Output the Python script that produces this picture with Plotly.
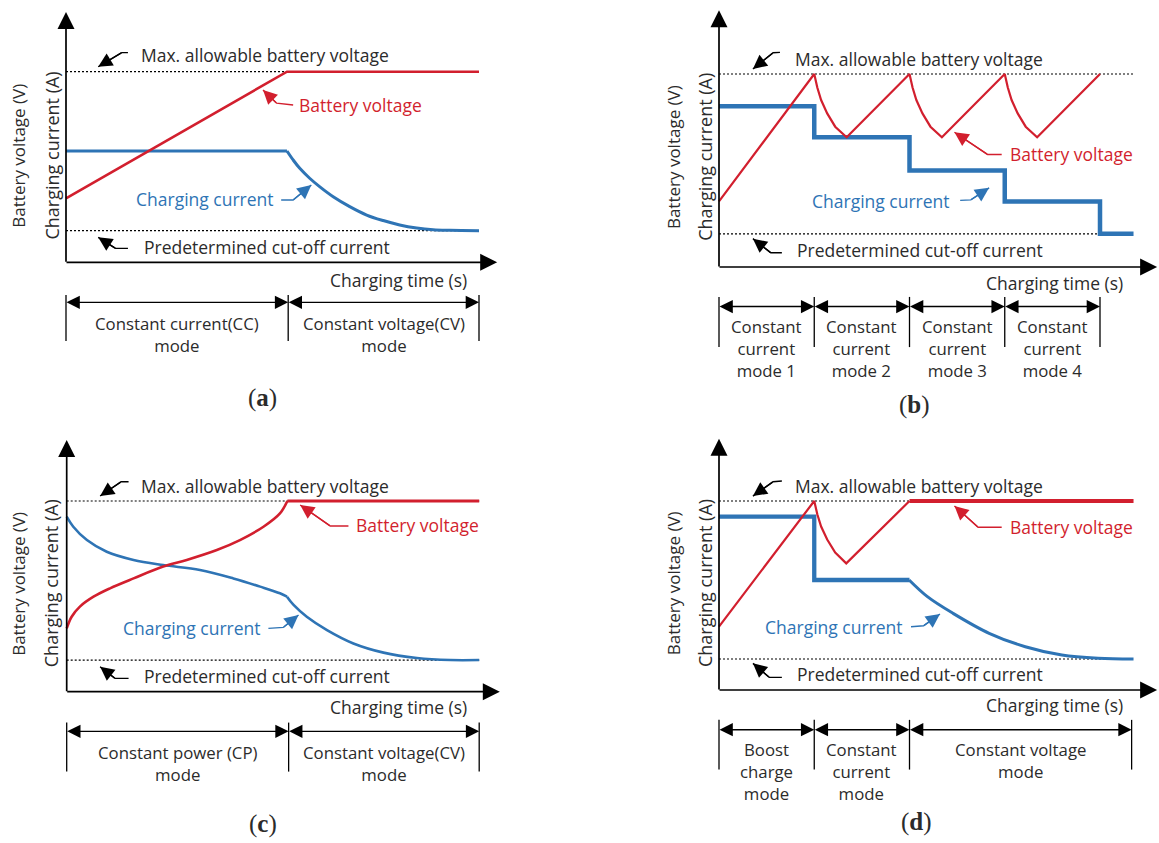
import plotly.graph_objects as go

W, H = 1159, 843
RED = '#d21f2e'
BLUE = '#2e74b5'
INK = '#2b2b2b'
FONT = 'Open Sans'
FS = 17.5

# ---------------- data (time: % of charge period, value: % of max voltage) -------------
# panel (a) CC-CV
a_volt_t = [0, 53.5, 100]
a_volt_v = [33.6, 100, 100]
a_cc_t = [0, 53.5]
a_cc_v = [58.4, 58.4]
a_cv_t = [53.5, 55.0, 56.6, 59.0, 61.4, 64.7, 68.7, 72.8, 76.8, 80.8, 84.9, 88.9, 93.0, 100]
a_cv_v = [58.4, 53.7, 49.3, 44.1, 39.7, 34.4, 29.2, 24.8, 21.9, 19.6, 18.0, 17.1, 16.8, 16.6]
a_mode_t = [0, 53.8, 100]
a_modes = [["Constant current(CC)", "mode"], ["Constant voltage(CV)", "mode"]]

# panel (b) multi-stage CC
b_volt_t = [0, 25, 25.8, 26.8, 28.4, 30.5, 33.5, 50, 50.8, 51.8, 53.4, 55.5, 58.5,
            75, 75.8, 76.8, 78.4, 80.5, 83.5, 100]
b_volt_v = [34.0, 100, 93.0, 86.5, 79.6, 72.7, 67.2, 100, 93.0, 86.5, 79.6, 72.7, 67.2,
            100, 93.0, 86.5, 79.6, 72.7, 67.2, 100]
b_curr_t = [0, 25, 50, 75, 100, 108.8]
b_curr_v = [83.3, 67.2, 50.0, 34.0, 17.2, 17.2]
b_mode_t = [0, 25, 50, 75, 100]
b_modes = [["Constant", "current", "mode 1"], ["Constant", "current", "mode 2"],
           ["Constant", "current", "mode 3"], ["Constant", "current", "mode 4"]]

# panel (c) CP-CV
c_cp_volt_t = [0, 1.2, 3.2, 6.5, 10.5, 16.2, 23.4, 29.1, 36.4, 42.0, 47.7, 51.7, 53.5]
c_cp_volt_v = [33.2, 39.3, 44.6, 49.8, 54.2, 59.4, 65.6, 69.1, 74.3, 79.5, 86.5, 93.5, 100]
c_cv_volt_t = [53.5, 100]
c_cv_volt_v = [100, 100]
c_cp_curr_t = [0, 1.6, 4.9, 9.7, 16.2, 23.4, 32.3, 40.4, 46.9, 51.7, 53.4]
c_cp_curr_v = [91.8, 86.5, 79.5, 73.4, 69.1, 66.4, 63.8, 59.4, 55.1, 51.6, 49.8]
c_cv_curr_t = [53.4, 55.0, 58.2, 63.1, 69.5, 76.8, 84.9, 93.0, 100]
c_cv_curr_v = [49.8, 45.5, 39.3, 32.3, 25.3, 20.5, 17.7, 16.6, 16.6]
c_mode_t = [0, 53.8, 100]
c_modes = [["Constant power (CP)", "mode"], ["Constant voltage(CV)", "mode"]]

# panel (d) boost-CC-CV
d_rise_volt_t = [0, 25, 25.8, 26.8, 28.4, 30.5, 33.4, 50]
d_rise_volt_v = [33.5, 100, 93.0, 86.5, 79.6, 72.7, 67.0, 100]
d_cv_volt_t = [50, 108.8]
d_cv_volt_v = [100, 100]
d_step_curr_t = [0, 25, 50]
d_step_curr_v = [91.7, 58.2, 58.2]
d_cv_curr_t = [49.9, 54.7, 61.4, 70.9, 80.4, 90.0, 99.5, 108.8]
d_cv_curr_v = [58.2, 49.4, 40.6, 30.0, 22.9, 18.5, 16.8, 16.4]
d_mode_t = [0, 25, 50, 108.3]
d_modes = [["Boost", "charge", "mode"], ["Constant", "current", "mode"], ["Constant voltage", "mode"]]

MAX_V = 100
CUTOFF = {1: 16.6, 2: 17.2, 3: 16.6, 4: 16.4}
LINE_END = {1: 100, 2: 108.8, 3: 100, 4: 108.8}

fig = go.Figure()
annotations = []


def names(i):
    return ('x', 'y') if i == 1 else (f'x{i}', f'y{i}')


def setup_axes(i, box, origin, scale):
    bx0, by0, bx1, by1 = box
    ox, oy = origin
    sx, sy = scale
    xn, yn = names(i)
    key = '' if i == 1 else str(i)
    fig.update_layout(**{
        f'xaxis{key}': dict(domain=[bx0 / W, bx1 / W], range=[(bx0 - ox) / sx, (bx1 - ox) / sx],
                            visible=False, fixedrange=True, anchor=yn),
        f'yaxis{key}': dict(domain=[1 - by1 / H, 1 - by0 / H], range=[(oy - by1) / sy, (oy - by0) / sy],
                            visible=False, fixedrange=True, anchor=xn),
    })


def line(i, t, v, color, width, dash='solid', shape='linear'):
    xn, yn = names(i)
    fig.add_trace(go.Scatter(x=t, y=v, xaxis=xn, yaxis=yn, mode='lines',
                             line=dict(color=color, width=width, dash=dash, shape=shape),
                             hoverinfo='skip', showlegend=False))


def text(i, t, v, s, color=INK, size=FS, xanchor='center', angle=0, family=FONT, yanchor='middle'):
    xn, yn = names(i)
    annotations.append(dict(x=t, y=v, xref=xn, yref=yn, text=s, showarrow=False,
                            xanchor=xanchor, yanchor=yanchor, textangle=angle, borderpad=0,
                            font=dict(family=family, size=size, color=color)))


def arrow(i, t0, v0, t1, v1, color, width=1.3, head=2, size=1.4, side='end'):
    xn, yn = names(i)
    annotations.append(dict(x=t1, y=v1, ax=t0, ay=v0, xref=xn, yref=yn, axref=xn, ayref=yn,
                            text='', showarrow=True, arrowhead=head, startarrowhead=head,
                            arrowsize=size, startarrowsize=size, arrowwidth=width,
                            arrowcolor=color, arrowside=side, standoff=0, startstandoff=0,
                            borderpad=0, font=dict(size=1)))


def pointer(i, start, bend, tip, color):
    line(i, [start[0], bend[0], tip[0]], [start[1], bend[1], tip[1]], color, 1.4)
    arrow(i, bend[0], bend[1], tip[0], tip[1], color, width=1.4, size=2.0)


def frame(i, xtip, ytip):
    arrow(i, 0, 0, xtip, 0, 'black', width=1.7, size=2.0)
    arrow(i, 0, 0, 0, ytip, 'black', width=1.7, size=2.0)
    end = LINE_END[i]
    line(i, [0, end], [MAX_V, MAX_V], 'black', 1.2, dash='2px,2px')
    line(i, [0, end], [CUTOFF[i], CUTOFF[i]], 'black', 1.2, dash='2px,2px')


def labels(i, pos):
    text(i, pos['max'][0], pos['max'][1], 'Max. allowable battery voltage', xanchor='left')
    text(i, pos['volt'][0], pos['volt'][1], 'Battery voltage', color=RED, xanchor='left')
    text(i, pos['curr'][0], pos['curr'][1], 'Charging current', color=BLUE, xanchor='left')
    text(i, pos['cut'][0], pos['cut'][1], 'Predetermined cut-off current', xanchor='left')
    text(i, pos['time'][0], pos['time'][1], 'Charging time (s)', xanchor='right')
    text(i, pos['ylab'][0], pos['ylab'][2], 'Battery voltage (V)', angle=-90, size=17)
    text(i, pos['ylab'][1], pos['ylab'][2], 'Charging current (A)', angle=-90, size=18)


def bracket(i, ticks, modes, v_top, v_bot, v_arrow, v_first):
    for tk in ticks:
        line(i, [tk, tk], [v_top, v_bot], 'black', 1.3)
    for k in range(len(ticks) - 1):
        arrow(i, ticks[k], v_arrow, ticks[k + 1], v_arrow, 'black', width=1.4, size=1.9, side='end+start')
        mid = (ticks[k] + ticks[k + 1]) / 2
        text(i, mid, v_first, '<br>'.join(modes[k]), size=16.8, yanchor='top')


def caption(i, t, v, letter):
    text(i, t, v, f'(<b>{letter}</b>)', size=25, family='Liberation Serif')


# ---------------- panel (a) ----------------
setup_axes(1, (0, 0, 579, 421), (66, 262.3), (4.13, 1.906))
frame(1, 104.4, 131.3)
line(1, a_cc_t, a_cc_v, BLUE, 3)
line(1, a_cv_t, a_cv_v, BLUE, 3, shape='spline')
line(1, a_volt_t, a_volt_v, RED, 2.6)
labels(1, dict(max=(17.9, 108.8), volt=(56.2, 82.5), curr=(16.6, 33.2), cut=(18.6, 8.2),
               time=(97.3, -9.4), ylab=(-11.6, -3.4, 56)))
pointer(1, (15.0, 110.0), (13.5, 110.0), (7.8, 102.6), 'black')
pointer(1, (55.0, 82.5), (51.0, 83.5), (47.7, 90.4), RED)
pointer(1, (52.1, 32.7), (55.0, 32.7), (59.4, 40.6), BLUE)
pointer(1, (15.0, 7.3), (12.0, 7.3), (7.8, 13.1), 'black')
bracket(1, a_mode_t, a_modes, -17.2, -41.3, -21, -25.4)
caption(1, 47.5, -71.2, 'a')

# ---------------- panel (b) ----------------
setup_axes(2, (579, 0, 1159, 421), (719, 267), (3.81, 1.93))
frame(2, 115, 133)
line(2, b_curr_t, b_curr_v, BLUE, 4.5, shape='hv')
line(2, b_volt_t, b_volt_v, RED, 2.2)
labels(2, dict(max=(19.8, 107.8), volt=(76.1, 58.3), curr=(24.1, 34.0), cut=(20.3, 8.6),
               time=(106.2, -8.1), ylab=(-12.1, -3.5, 56.9)))
pointer(2, (16.0, 111.2), (14.2, 111.0), (8.9, 102.6), 'black')
pointer(2, (74.2, 58.3), (70.5, 58.3), (61.8, 69.8), RED)
pointer(2, (63.3, 34.5), (66.1, 34.8), (70.9, 41.0), BLUE)
pointer(2, (16.5, 7.4), (13.6, 7.4), (8.9, 14.7), 'black')
bracket(2, b_mode_t, b_modes, -15.5, -41.5, -20.5, -24.2)
caption(2, 51.3, -71.5, 'b')

# ---------------- panel (c) ----------------
setup_axes(3, (0, 421, 579, 843), (66.7, 691.7), (4.125, 1.907))
frame(3, 105, 132)
line(3, c_cp_curr_t, c_cp_curr_v, BLUE, 2.6, shape='spline')
line(3, c_cv_curr_t, c_cv_curr_v, BLUE, 2.6, shape='spline')
line(3, c_cp_volt_t, c_cp_volt_v, RED, 2.6, shape='spline')
line(3, c_cv_volt_t, c_cv_volt_v, RED, 2.8)
labels(3, dict(max=(17.8, 108), volt=(69.9, 87.4), curr=(13.3, 33.2), cut=(18.6, 8.4),
               time=(97.4, -8.2), ylab=(-11.7, -3.6, 56.8)))
pointer(3, (15.0, 110.1), (13.2, 110.1), (8.1, 102.6), 'black')
pointer(3, (68.3, 86.9), (63.9, 86.9), (56.6, 97.9), RED)
pointer(3, (48.9, 33.2), (52.5, 33.7), (56.2, 40.2), BLUE)
pointer(3, (15.0, 7.0), (11.7, 7.0), (8.1, 13.1), 'black')
bracket(3, c_mode_t, c_modes, -16.2, -41.9, -20.8, -25.3)
caption(3, 47.7, -69.6, 'c')

# ---------------- panel (d) ----------------
setup_axes(4, (579, 421, 1159, 843), (719, 690), (3.81, 1.89))
frame(4, 115, 133)
line(4, d_step_curr_t, d_step_curr_v, BLUE, 4.3, shape='hv')
line(4, d_cv_curr_t, d_cv_curr_v, BLUE, 3, shape='spline')
line(4, d_rise_volt_t, d_rise_volt_v, RED, 2.2)
line(4, d_cv_volt_t, d_cv_volt_v, RED, 4.2)
labels(4, dict(max=(19.8, 108.1), volt=(76.1, 86.1), curr=(11.7, 33.5), cut=(20.3, 8.5),
               time=(106.2, -7.9), ylab=(-12.1, -3.5, 56.4)))
pointer(4, (16.5, 110.6), (14.2, 110.2), (8.9, 102.6), 'black')
pointer(4, (74.2, 86.1), (68.0, 86.1), (61.8, 97.4), RED)
pointer(4, (50.4, 33.5), (53.7, 34.0), (58.0, 40.2), BLUE)
pointer(4, (16.5, 6.7), (13.2, 6.7), (8.9, 14.1), 'black')
bracket(4, d_mode_t, d_modes, -15.8, -42.1, -21, -25.0)
caption(4, 51.8, -70, 'd')

fig.update_layout(width=W, height=H, margin=dict(l=0, r=0, t=0, b=0),
                  paper_bgcolor='white', plot_bgcolor='white',
                  annotations=annotations, showlegend=False)

fig.write_html('out.html', config={'displayModeBar': False, 'staticPlot': True})
